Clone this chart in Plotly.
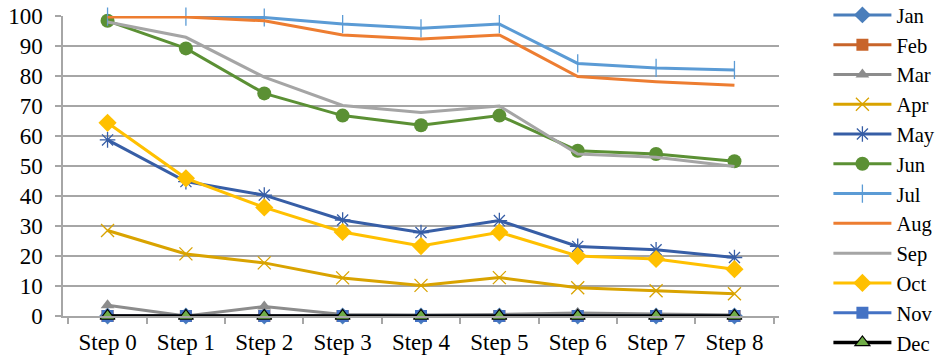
import plotly.graph_objects as go

steps = ["Step 0", "Step 1", "Step 2", "Step 3", "Step 4", "Step 5", "Step 6", "Step 7", "Step 8"]

jan = [0, 0, 0, 0, 0, 0, 0, 0, 0]
feb = [0, 0, 0, 0, 0, 0, 0, 0, 0]
mar = [3.6, 0, 3.2, 0.5, 0.3, 0.5, 1.0, 0.6, 0.3]
apr = [28.5, 20.7, 17.7, 12.7, 10.2, 12.8, 9.4, 8.4, 7.4]
may = [58.7, 44.8, 40.3, 32.0, 27.8, 31.8, 23.2, 22.1, 19.5]
jun = [98.4, 89.2, 74.2, 66.8, 63.6, 66.8, 55.1, 54.0, 51.6]
jul = [99.8, 99.8, 99.5, 97.3, 95.9, 97.3, 84.2, 82.7, 82.0]
aug = [99.7, 99.7, 98.4, 93.7, 92.3, 93.7, 79.8, 78.1, 76.9]
sep = [98.0, 92.9, 79.6, 70.2, 67.8, 70.0, 54.0, 52.9, 49.8]
octo = [64.4, 45.9, 36.2, 28.0, 23.3, 27.9, 20.0, 19.0, 15.6]
nov = [0, 0, 0, 0, 0, 0, 0, 0, 0]
dec = [0, 0, 0, 0, 0, 0, 0, 0, 0]

series = [
    ("Jan", jan, "#4A7EBB", "diamond", 13, "#4A7EBB", 0),
    ("Feb", feb, "#C8642A", "square", 12, "#C8642A", 0),
    ("Mar", mar, "#8C8C8C", "triangle-up", 12, "#8C8C8C", 0),
    ("Apr", apr, "#D9A300", "x-thin-open", 13, "#D9A300", 1.3),
    ("May", may, "#375EA6", "asterisk-open", 13, "#375EA6", 1.3),
    ("Jun", jun, "#5B9034", "circle", 14, "#5B9034", 0),
    ("Jul", jul, "#5B9BD5", "line-ns-open", 13, "#5B9BD5", 1.3),
    ("Aug", aug, "#ED7D31", None, 0, None, 0),
    ("Sep", sep, "#A5A5A5", None, 0, None, 0),
    ("Oct", octo, "#FFC000", "diamond", 14, "#FFC000", 0),
    ("Nov", nov, "#4472C4", "square", 12, "#4472C4", 0),
    ("Dec", dec, "#000000", "triangle-up", 13, "#70AD47", 1.2),
]

fig = go.Figure()
for name, vals, color, symbol, size, mcolor, mlw in series:
    if symbol is None:
        mode = "lines"
        marker = None
    else:
        mode = "lines+markers"
        line_col = "#000000" if name == "Dec" else mcolor
        marker = dict(symbol=symbol, size=size, color=mcolor,
                      line=dict(width=mlw, color=line_col))
    fig.add_trace(go.Scatter(
        x=steps, y=vals, name=name, mode=mode,
        line=dict(color=color, width=3.5 if name == "Dec" else 3),
        marker=marker, cliponaxis=False,
    ))

font = "Liberation Serif, Times New Roman, serif"
fig.update_layout(
    width=940, height=359,
    margin=dict(l=63, r=161, t=16, b=43, autoexpand=False),
    paper_bgcolor="white", plot_bgcolor="white",
    font=dict(family=font, size=23, color="black"),
    showlegend=True,
    legend=dict(x=1.069, xanchor="left", y=1.07, yanchor="top",
                itemwidth=58, maxheight=420, borderwidth=0,
                font=dict(family=font, size=20.6)),
    xaxis=dict(type="category", showline=True, linecolor="#A6A6A6", linewidth=1.5,
               ticks="outside", tickson="boundaries", ticklen=6, tickcolor="#A6A6A6",
               tickwidth=1.5, showgrid=False, zeroline=False, ticklabelstandoff=5,
               tickfont=dict(family=font, size=23)),
    yaxis=dict(range=[0, 100], dtick=10, showline=True, linecolor="#A6A6A6",
               linewidth=1.5, gridcolor="#A6A6A6", gridwidth=1.5, zeroline=False,
               ticks="outside", ticklen=6, tickcolor="#A6A6A6", tickwidth=1.5,
               ticklabelstandoff=8, tickfont=dict(family=font, size=23)),
)

fig.write_html("out.html")
